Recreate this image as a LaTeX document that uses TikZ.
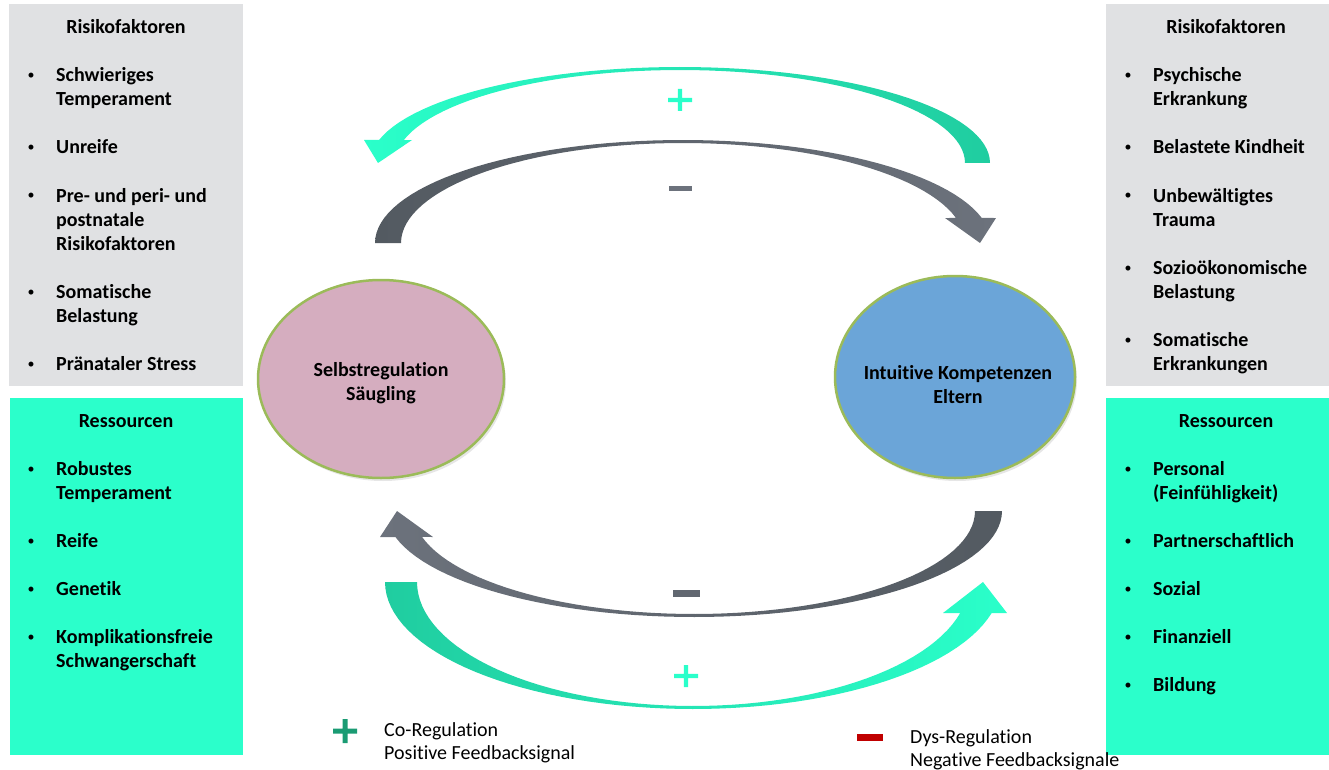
\documentclass[tikz,border=0pt]{standalone}
\usepackage{fontspec}
\setmainfont{Carlito}[Ligatures=NoCommon]
\usetikzlibrary{shapes.geometric, shadows}

\definecolor{boxgrey}{RGB}{224,225,227}
\definecolor{boxteal}{RGB}{43,255,203}
\definecolor{cyanlight}{RGB}{42,255,202}
\definecolor{cyandark}{RGB}{32,205,160}
\definecolor{greydark}{RGB}{83,90,97}
\definecolor{greylight}{RGB}{108,114,124}
\definecolor{pinkfill}{RGB}{213,173,191}
\definecolor{bluefill}{RGB}{107,165,216}
\definecolor{ringgreen}{RGB}{155,187,89}
\definecolor{legendgreen}{RGB}{26,155,115}
\definecolor{legendred}{RGB}{192,0,0}

\newcommand{\basefont}{\fontsize{20pt}{24pt}\selectfont}

\begin{document}
\begin{tikzpicture}[
    x=1pt, y=-1pt,
    every node/.style={inner sep=0pt},
    title/.style={font=\basefont\bfseries, anchor=base},
    itemtext/.style={font=\basefont\bfseries, anchor=base west},
    bullet/.style={font=\fontsize{14pt}{14pt}\selectfont, anchor=base},
    oval/.style={ellipse, draw=ringgreen, line width=2.5pt, minimum width=246pt, minimum height=198pt,
        drop shadow={opacity=0.2, shadow xshift=2pt, shadow yshift=-3pt}},
    ovaltext/.style={font=\basefont\bfseries, align=center},
    legendtext/.style={font=\basefont, anchor=base west}
]
    \useasboundingbox (0,0) rectangle (1329,770);

    % Boxes
    \fill[boxgrey] (9,4) rectangle (243,386);
    \fill[boxteal] (10,398) rectangle (243,755);
    \fill[boxgrey] (1106,4) rectangle (1329,386);
    \fill[boxteal] (1106,398) rectangle (1329,755);

    % Left lists
    \node[title] (riskL) at (126,34) {Risikofaktoren};
    \foreach \k/\txt in {2/Schwieriges, 3/Temperament, 5/Unreife, 7/Pre- und peri- und,
        8/postnatale, 9/Risikofaktoren, 11/Somatische, 12/Belastung, 14/Pränataler Stress}
        \node[itemtext] (riskL-\k) at (56,34+24*\k) {\txt};
    \foreach \k in {2,5,7,11,14}
        \node[bullet] (riskL-b\k) at (31,32+24*\k) {\textbullet};

    \node[title] (resL) at (126,427) {Ressourcen};
    \foreach \k/\txt in {2/Robustes, 3/Temperament, 5/Reife, 7/Genetik,
        9/Komplikationsfreie, 10/Schwangerschaft}
        \node[itemtext] (resL-\k) at (56,427+24*\k) {\txt};
    \foreach \k in {2,5,7,9}
        \node[bullet] (resL-b\k) at (31,425+24*\k) {\textbullet};

    % Right lists
    \node[title] (riskR) at (1226,34) {Risikofaktoren};
    \foreach \k/\txt in {2/Psychische, 3/Erkrankung, 5/Belastete Kindheit, 7/Unbewältigtes,
        8/Trauma, 10/Sozioökonomische, 11/Belastung, 13/Somatische, 14/Erkrankungen}
        \node[itemtext] (riskR-\k) at (1153,34+24*\k) {\txt};
    \foreach \k in {2,5,7,10,13}
        \node[bullet] (riskR-b\k) at (1128,32+24*\k) {\textbullet};

    \node[title] (resR) at (1226,427) {Ressourcen};
    \foreach \k/\txt in {2/Personal, 3/{(Feinfühligkeit)}, 5/Partnerschaftlich, 7/Sozial,
        9/Finanziell, 11/Bildung}
        \node[itemtext] (resR-\k) at (1153,427+24*\k) {\txt};
    \foreach \k in {2,5,7,9,11}
        \node[bullet] (resR-b\k) at (1128,425+24*\k) {\textbullet};

    % Curved arrows
    \shade[left color=cyanlight, right color=cyandark]
        plot[domain=0:166.1, samples=60] ({680+310*cos(\x)},{163-96*sin(\x)})
        -- (364,140) -- (378,163) -- (412,140)
        -- plot[domain=165.7:0, samples=60] ({680+285*cos(\x)},{163-93*sin(\x)}) -- cycle;
    \shade[left color=greydark, right color=greylight]
        plot[domain=180:14.05, samples=60] ({683+308*cos(\x)},{243-103*sin(\x)})
        -- (996,218) -- (980,243) -- (945,218)
        -- plot[domain=14.48:180, samples=60] ({683+282*cos(\x)},{243-100*sin(\x)}) -- cycle;
    \shade[left color=greylight, right color=greydark]
        plot[domain=0:165.8, samples=60] ({694+308*cos(\x)},{511+106*sin(\x)})
        -- (380,537) -- (397,511) -- (433,537)
        -- plot[domain=165.4:0, samples=60] ({694+281*cos(\x)},{511+103*sin(\x)}) -- cycle;
    \shade[left color=cyandark, right color=cyanlight]
        plot[domain=180:14.13, samples=60] ({693+308*cos(\x)},{582+127*sin(\x)})
        -- (1007,613) -- (983,582) -- (943,613)
        -- plot[domain=14.48:180, samples=60] ({693+276*cos(\x)},{582+124*sin(\x)}) -- cycle;

    % Signs
    \fill[cyanlight] (668,97.8) rectangle (692,102.2) (677.8,89) rectangle (682.2,111);
    \fill[greylight] (669,185.5) rectangle (692,190.5);
    \fill[greylight!90!black] (673,589.5) rectangle (700,596.5);
    \fill[cyanlight] (674,673.8) rectangle (698,678.2) (683.8,665) rectangle (688.2,687);

    % Ovals
    \node[oval, fill=pinkfill] (saeugling) at (381,379) {};
    \node[ovaltext] (saeuglingtext) at (381,383) {Selbstregulation\\Säugling};
    \node[oval, fill=bluefill, minimum width=240pt, minimum height=202pt] (eltern) at (955,377) {};
    \node[ovaltext] (elterntext) at (958,385) {Intuitive Kompetenzen\\Eltern};

    % Legend
    \fill[legendgreen] (333,728.5) rectangle (357,733.5) (342.5,719) rectangle (347.5,743);
    \node[legendtext] (coreg) at (384,736) {Co-Regulation};
    \node[legendtext] (posfb) at (384,759) {Positive Feedbacksignal};
    \fill[legendred] (857,733.5) rectangle (883,741);
    \node[legendtext] (dysreg) at (910,743) {Dys-Regulation};
    \node[legendtext] (negfb) at (910,766) {Negative Feedbacksignale};

\end{tikzpicture}
\end{document}
